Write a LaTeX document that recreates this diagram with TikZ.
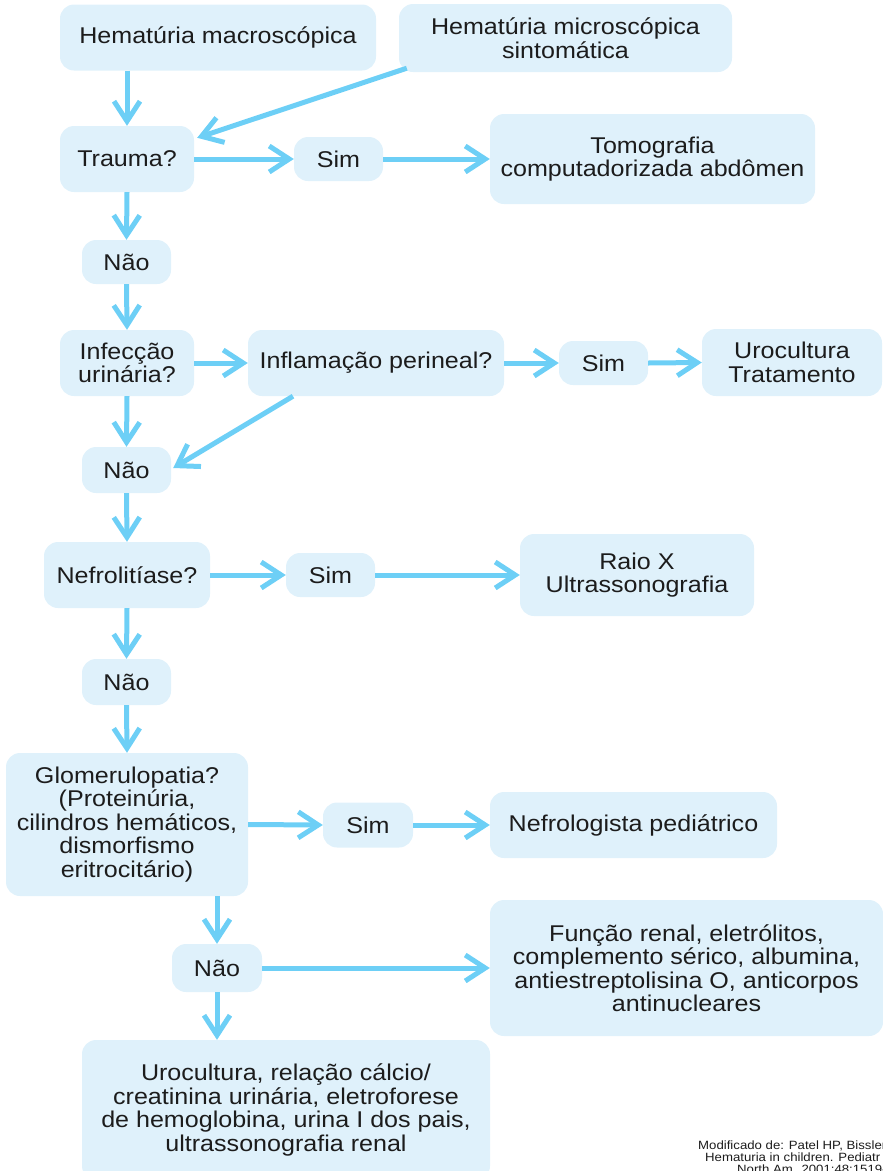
\documentclass[tikz,border=0pt]{standalone}
\usepackage{fontspec}
\setmainfont[FakeStretch=1.1]{Liberation Sans}
\usetikzlibrary{arrows.meta}
\definecolor{boxfill}{HTML}{DFF1FB}
\definecolor{arrc}{HTML}{6DCFF6}
\definecolor{txt}{HTML}{1C1C1C}
\tikzset{
  box/.style={rounded corners=14pt, fill=boxfill, draw=none, inner sep=0pt, align=center,
    text=txt, font=\fontsize{22.8}{23.5}\selectfont},
  arr/.style={draw=arrc, line width=5pt, -{Straight Barb[length=20pt,width=26pt]}},
  cite/.style={anchor=base west, inner sep=0pt, text=txt, font=\fontsize{12}{12}\selectfont}
}
\begin{document}
\begin{tikzpicture}[x=1pt,y=-1pt]
\useasboundingbox (0,0) rectangle (883,1171);
\node[box, minimum width=316pt, minimum height=66pt] (h1) at (218,37.5) {Hematúria macroscópica};
\node[box, minimum width=333pt, minimum height=68pt] (h2) at (565.5,38) {Hematúria microscópica\\sintomática};
\node[box, minimum width=134pt, minimum height=66pt] (trauma) at (127,159) {Trauma?};
\node[box, minimum width=89pt, minimum height=44pt] (sim1) at (338.5,159) {Sim};
\node[box, minimum width=325pt, minimum height=90pt] (tomo) at (652.5,159) {Tomografia\\computadorizada abdômen};
\node[box, minimum width=89pt, minimum height=44pt] (nao1) at (126.5,262) {Não};
\node[box, minimum width=134pt, minimum height=66pt] (infec) at (127,363) {Infecção\\urinária?};
\node[box, minimum width=256pt, minimum height=66pt] (infl) at (376,363) {Inflamação perineal?};
\node[box, minimum width=89pt, minimum height=44pt] (sim2) at (603.5,363) {Sim};
\node[box, minimum width=180pt, minimum height=67pt] (uro) at (792,362.5) {Urocultura\\Tratamento};
\node[box, minimum width=89pt, minimum height=46pt] (nao2) at (126.5,470) {Não};
\node[box, minimum width=166pt, minimum height=66pt] (nefro) at (127,575) {Nefrolitíase?};
\node[box, minimum width=89pt, minimum height=44pt] (sim3) at (330.5,575) {Sim};
\node[box, minimum width=234pt, minimum height=82pt] (raio) at (637,575) {Raio X\\Ultrassonografia};
\node[box, minimum width=89pt, minimum height=46pt] (nao3) at (126.5,682) {Não};
\node[box, minimum width=242pt, minimum height=143pt] (glom) at (127,824.5) {Glomerulopatia?\\(Proteinúria,\\cilindros hemáticos,\\dismorfismo\\eritrocitário)};
\node[box, minimum width=90pt, minimum height=45pt] (sim4) at (368,825) {Sim};
\node[box, minimum width=287pt, minimum height=66pt] (nefrol) at (633.5,825) {Nefrologista pediátrico};
\node[box, minimum width=90pt, minimum height=48pt] (nao4) at (217,968) {Não};
\node[box, minimum width=393pt, minimum height=136pt] (func) at (686.5,968) {Função renal, eletrólitos,\\complemento sérico, albumina,\\antiestreptolisina O, anticorpos\\antinucleares};
\node[box, minimum width=408pt, minimum height=140pt] (final) at (286,1110) {Urocultura, relação cálcio/\\creatinina urinária, eletroforese\\de hemoglobina, urina I dos pais,\\ultrassonografia renal};
\node[cite] (c1) at (698,1149) {Modificado de: Patel HP, Bissler JJ.};
\node[cite] (c2) at (705,1161) {Hematuria in children. Pediatr Clin};
\node[cite] (c3) at (737,1173) {North Am. 2001;48:1519-37.};
% connectors
\draw[arr] (trauma.north |- h1.south) -- (trauma.north);
\draw[arr] ([xshift=8pt,yshift=4pt]h2.south west) -- ([xshift=3pt,yshift=-12pt]trauma.north east);
\draw[arr] (trauma.east) -- (sim1.west);
\draw[arr] (sim1.east) -- (tomo.west);
\draw[arr] (trauma.south) -- (nao1.north);
\draw[arr] (nao1.south) -- (infec.north);
\draw[arr] (infec.east) -- (infl.west);
\draw[arr] (infl.east) -- (sim2.west);
\draw[arr] (sim2.east) -- (uro.west);
\draw[arr] (infec.south) -- (nao2.north);
\draw[arr] ([xshift=-83pt]infl.south) -- ([xshift=2pt,yshift=2pt]nao2.east);
\draw[arr] (nao2.south) -- (nefro.north);
\draw[arr] (nefro.east) -- (sim3.west);
\draw[arr] (sim3.east) -- (raio.west);
\draw[arr] (nefro.south) -- (nao3.north);
\draw[arr] (nao3.south) -- (glom.north);
\draw[arr] (glom.east) -- (sim4.west);
\draw[arr] (sim4.east) -- (nefrol.west);
\draw[arr] (nao4.north |- glom.south) -- (nao4.north);
\draw[arr] (nao4.east) -- (func.west |- nao4.east);
\draw[arr] (nao4.south) -- (nao4.south |- final.north);
\end{tikzpicture}
\end{document}
